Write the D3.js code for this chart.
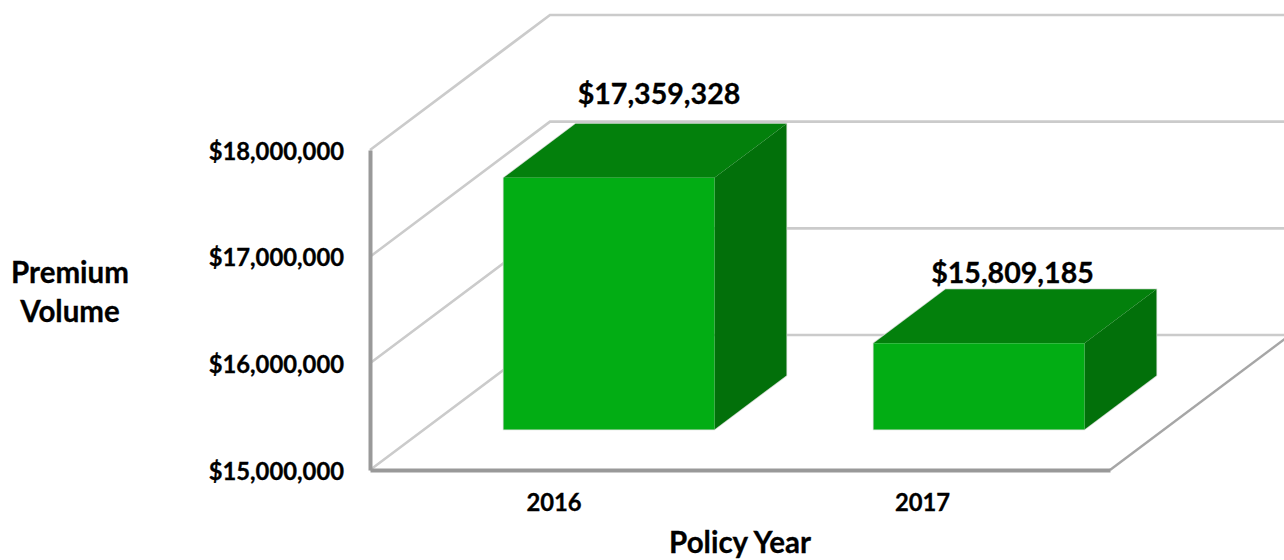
<!DOCTYPE html>
<html>
<head>
<meta charset="utf-8">
<script src="https://cdn.jsdelivr.net/npm/d3@7"></script>
<style>
  html, body { margin: 0; padding: 0; background: #fff; overflow: hidden; }
  svg { display: block; }
  text { font-family: Lato, "Open Sans", sans-serif; font-weight: 700; fill: #000; stroke: #000; stroke-width: 0.3px; }
</style>
</head>
<body>
<div id="chart"></div>
<script>
// data
const years = ['2016', '2017'];
const premiums = [17359328, 15809185];
const premiumLabels = ['$17,359,328', '$15,809,185'];
const yTicks = [15000000, 16000000, 17000000, 18000000];
const yTickLabels = ['$15,000,000', '$16,000,000', '$17,000,000', '$18,000,000'];

const width = 1284;
const height = 560;

// scales for the front plane of the 3D box
const x = d3.scaleBand()
  .domain(years)
  .range([370, 1110])
  .paddingInner(0.43)
  .paddingOuter(0.215);

const y = d3.scaleLinear()
  .domain([15000000, 18000000])
  .range([470, 150]);

// depth goes from 0 (front) to 1 (back wall)
const depthX = 180;
const depthY = -135;
const barDepthStart = 0.3;
const barDepthEnd = 0.7;
const project = (px, py, d) => [px + d * depthX, py + d * depthY];

const svg = d3.select('#chart')
  .append('svg')
  .attr('width', width)
  .attr('height', height);

const gridColor = '#cbcbcb';
const floorColor = '#a6a6a6';

// back wall and side wall gridlines
yTicks.forEach(t => {
  const [x0, y0] = project(x.range()[0], y(t), 0);
  const [x1, y1] = project(x.range()[0], y(t), 1);
  const [x2, y2] = project(x.range()[1], y(t), 1);
  svg.append('path')
    .attr('d', d3.line()([[x0, y0], [x1, y1], [x2, y2]]))
    .attr('fill', 'none')
    .attr('stroke', gridColor)
    .attr('stroke-width', 2.6);
});

// right edge of the floor
const floorRight = [project(x.range()[1], y(15000000), 0), project(x.range()[1], y(15000000), 1)];
svg.append('path')
  .attr('d', d3.line()(floorRight))
  .attr('fill', 'none')
  .attr('stroke', floorColor)
  .attr('stroke-width', 2.4);

// y axis
const yAxis = d3.axisLeft(y)
  .tickValues(yTicks)
  .tickSize(0)
  .tickPadding(26)
  .tickFormat((d, i) => yTickLabels[i]);

const yAxisG = svg.append('g')
  .attr('transform', 'translate(370,0)')
  .call(yAxis);
yAxisG.select('.domain')
  .attr('stroke', '#999')
  .attr('stroke-width', 4);
yAxisG.selectAll('text')
  .attr('font-size', 23.8)
  .attr('dy', '0.38em');

// x axis
const xAxis = d3.axisBottom(x)
  .tickSize(0)
  .tickPadding(24);

const xAxisG = svg.append('g')
  .attr('transform', 'translate(0,470)')
  .call(xAxis);
xAxisG.select('.domain')
  .attr('stroke', '#999')
  .attr('stroke-width', 4);
xAxisG.selectAll('text')
  .attr('font-size', 23.8)
  .attr('dx', (d, i) => (i === 0 ? -1 : -2.5));

// bars
const frontColor = '#02ad14';
const topColor = '#03800c';
const sideColor = '#02700a';
const edgeColor = '#d5ddd5';

const bars = svg.append('g');

years.forEach((year, i) => {
  const left = x(year);
  const right = left + x.bandwidth();
  const top = y(premiums[i]);
  const base = y(15000000);

  const fl = project(left, top, barDepthStart);
  const fr = project(right, top, barDepthStart);
  const blf = project(left, base, barDepthStart);
  const brf = project(right, base, barDepthStart);
  const tl = project(left, top, barDepthEnd);
  const tr = project(right, top, barDepthEnd);
  const br = project(right, base, barDepthEnd);

  // light outline behind the faces
  bars.append('path')
    .attr('d', d3.line()([fl, tl, tr, br, brf, blf]) + 'Z')
    .attr('fill', 'none')
    .attr('stroke', edgeColor)
    .attr('stroke-width', 1.5);

  const faces = [
    { pts: [fl, tl, tr, fr], fill: topColor },
    { pts: [fr, tr, br, brf], fill: sideColor },
    { pts: [fl, fr, brf, blf], fill: frontColor }
  ];

  faces.forEach(f => {
    bars.append('path')
      .attr('d', d3.line()(f.pts) + 'Z')
      .attr('fill', f.fill);
  });
});

// value labels, nudged from the back of the bar top to where they sit on the original
const labelNudge = [[-22, -19.5], [-38.5, -6.5]];

years.forEach((year, i) => {
  const cx = x(year) + x.bandwidth() / 2;
  const [lx, ly] = project(cx, y(premiums[i]), barDepthEnd);
  svg.append('text')
    .attr('x', lx + labelNudge[i][0])
    .attr('y', ly + labelNudge[i][1])
    .attr('text-anchor', 'middle')
    .attr('font-size', 28.6)
    .text(premiumLabels[i]);
});

// axis titles
svg.append('text')
  .attr('x', 70)
  .attr('y', 283)
  .attr('text-anchor', 'middle')
  .attr('font-size', 29.5)
  .text('Premium');

svg.append('text')
  .attr('x', 70)
  .attr('y', 322)
  .attr('text-anchor', 'middle')
  .attr('font-size', 29.5)
  .text('Volume');

svg.append('text')
  .attr('x', 740)
  .attr('y', 553)
  .attr('text-anchor', 'middle')
  .attr('font-size', 29.5)
  .text('Policy Year');
</script>
</body>
</html>
